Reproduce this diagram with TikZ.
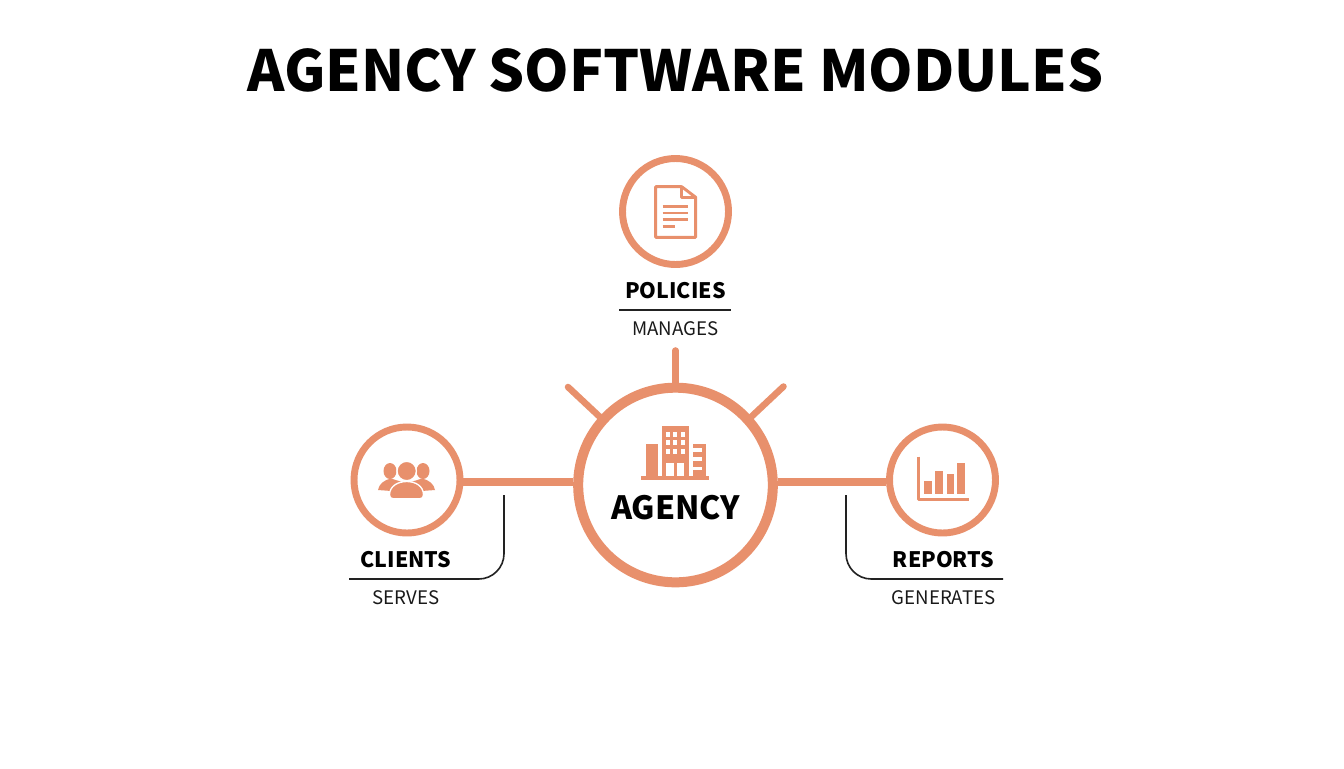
\documentclass[tikz,border=0pt]{standalone}
\usepackage{fontspec}
\setmainfont{Noto Sans CJK SC}
\usepackage{tikz}
\usetikzlibrary{positioning}
\definecolor{coral}{HTML}{E8906C}
\definecolor{inkline}{HTML}{222222}
\tikzset{
hub/.style = {draw=coral, fill=white, circle, line width=7.5pt, minimum size=146pt, inner sep=0pt},
module/.style = {draw=coral, fill=white, circle, line width=5.2pt, minimum size=79.5pt, inner sep=0pt},
link/.style = {draw=coral, line width=5.4pt},
spoke/.style = {draw=coral, line width=4.9pt, line cap=round},
thinrule/.style = {draw=inkline, line width=1.2pt},
heading/.style = {font=\bfseries\fontsize{42.5}{50}\selectfont, text=black},
hubname/.style = {font=\bfseries\fontsize{24}{28}\selectfont, text=black},
modname/.style = {font=\bfseries\fontsize{16}{20}\selectfont, text=black},
modverb/.style = {font=\fontsize{14}{16}\selectfont, text=black!90},
tmp/.style = {coordinate},
glyph/.style = {fill=coral, draw=none},
stroked/.style = {draw=coral, line width=2.2pt, line join=round}
}
\begin{document}
\begin{tikzpicture}[x=0.75pt, y=-0.75pt]
    \path [fill=white, use as bounding box] (0,0) rectangle (1344,768);
    \node at (675.5,70) [heading] (title) {AGENCY SOFTWARE MODULES};

    % We start by placing the circles
    \node at (675.5,485) [hub] (agency) {};
    \node at (675.5,211.5) [module] (policies) {};
    \node at (407,480) [module] (clients) {};
    \node at (942.5,480) [module] (reports) {};

    % Then the texts below them
    \node [modname, below of=policies, node distance=59pt] (policiesname) {POLICIES};
    \node [modverb, below of=policiesname, node distance=28.5pt] (policiesverb) {MANAGES};
    \node [modname, below of=clients, node distance=59.5pt, xshift=-0.7pt] (clientsname) {CLIENTS};
    \node [modverb, below of=clientsname, node distance=29pt] (clientsverb) {SERVES};
    \node [modname, below of=reports, node distance=59.5pt, xshift=0.8pt] (reportsname) {REPORTS};
    \node [modverb, below of=reportsname, node distance=29pt] (reportsverb) {GENERATES};
    \node at (675.5,508) [hubname] (agencyname) {AGENCY};

    % Free ends of the spokes and the thin lines
    \node at (675.5,350.5) [tmp] (tipup) {};
    \node at (568,387) [tmp] (tipleft) {};
    \node at (783.5,386.5) [tmp] (tipright) {};
    \node at (619,310) [tmp] (ruleA) {};
    \node at (731,310) [tmp] (ruleB) {};
    \node at (504,495) [tmp] (ruleC) {};
    \node at (349,579) [tmp] (ruleD) {};
    \node at (846,495) [tmp] (ruleE) {};
    \node at (1003,579) [tmp] (ruleF) {};

    % Connectors stop at the rings
    \draw [link] ([yshift=-1.5pt]clients.east) -- ([yshift=2.25pt]agency.west);
    \draw [link] ([yshift=-1.5pt]reports.west) -- ([yshift=2.25pt]agency.east);
    \draw [spoke] (tipup) -- (agency.north);
    \draw [spoke] (tipleft) -- (agency.138);
    \draw [spoke] (tipright) -- (agency.42);
    \draw [thinrule] (ruleA) -- (ruleB);
    \draw [thinrule, rounded corners=19pt] (ruleC) |- (ruleD);
    \draw [thinrule, rounded corners=19pt] (ruleE) |- (ruleF);

    % Building
    \fill [glyph] (641,475.7) rectangle (709.3,479.7);
    \fill [glyph] (646,444) rectangle (658.3,475.7);
    \fill [glyph] (661.7,426) rectangle (689.3,475.7);
    \fill [glyph] (692.7,444) rectangle (705.7,475.7);
    \foreach \wx in {666,673.3,681}
      \foreach \wy in {431.7,440,449.3}
        \fill [white] (\wx,\wy) rectangle +(4,5);
    \fill [white] (666,462.7) rectangle +(8,13);
    \fill [white] (677.3,462.7) rectangle +(7,13);
    \foreach \wy in {448.3,457.3,466.7}
      \fill [white] (692.7,\wy) rectangle +(9,3.3);

    % Document
    \draw [stroked] (655.7,186.7) -- (681.7,186.7) -- (695.7,197.3) -- (695.7,237.3) -- (655.7,237.3) -- cycle;
    \draw [stroked] (681.7,186.7) -- (681.7,197.3) -- (695.7,197.3);
    \foreach \ly in {206.7,213,219.3}
      \draw [stroked] (662.7,\ly) -- (688.3,\ly);
    \draw [stroked] (662.7,226.3) -- (675,226.3);

    % People
    \fill [glyph] (390,471) ellipse (6.5 and 8);
    \fill [glyph] (423,471) ellipse (6.5 and 8);
    \fill [glyph] (378,490) .. controls (379,484) and (384,480) .. (391,478.5) -- (402,482) -- (398,491.5) -- cycle;
    \fill [glyph] (435,490) .. controls (434,484) and (429,480) .. (422,478.5) -- (411,482) -- (415,491.5) -- cycle;
    \fill [glyph, draw=white, line width=1pt] (406.7,471) circle (9.7);
    \fill [glyph, draw=white, line width=1pt] (389.5,495) .. controls (389.5,486) and (398,481.5) .. (406.7,481.5) .. controls (415.5,481.5) and (423.5,486) .. (423.5,495) .. controls (423.5,497.5) and (422,498.7) .. (420,498.7) -- (393,498.7) .. controls (391,498.7) and (389.5,497.5) .. (389.5,495) -- cycle;

    % Chart
    \draw [stroked] (918.3,456.7) -- (918.3,499.3) -- (969.3,499.3);
    \fill [glyph] (924,481) rectangle (931.7,494.3);
    \fill [glyph] (935,470.7) rectangle (942.7,494.3);
    \fill [glyph] (946.7,474) rectangle (954.3,494.3);
    \fill [glyph] (957.3,462.7) rectangle (965,494.3);
\end{tikzpicture}
\end{document}
